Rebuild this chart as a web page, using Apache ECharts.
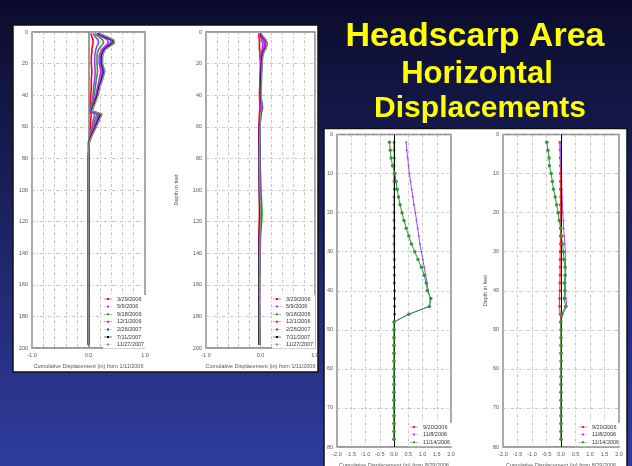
<!DOCTYPE html>
<html><head><meta charset="utf-8">
<script src="https://cdn.jsdelivr.net/npm/echarts@6/dist/echarts.min.js"></script>
<style>html,body{margin:0;padding:0;background:#1a1f5a}#c{width:632px;height:466px}</style>
</head><body><div id="c"></div>
<script>
// ---------- DATA ----------
const datesA = ['3/29/2006','5/9/2006','9/18/2006','12/1/2006','2/26/2007','7/11/2007','11/27/2007'];
const datesB = ['9/20/2006','11/8/2006','11/14/2006'];
const xTicksA = [-1.0, 0.0, 1.0];
const xTicksB = [-2.0,-1.5,-1.0,-0.5,0.0,0.5,1.0,1.5,2.0];

// Plot 1 (left panel, first inclinometer) depths in feet
const depthA = [1,3,5,7,9,11,13,15,20,25,30,35,40,45,50,52,55,60,65,70,80,100,120,140,160,180,198];
const A_0329_2006 = [0.04,0.06,0.08,0.08,0.07,0.06,0.06,0.05,0.05,0.06,0.05,0.05,0.04,0.03,0.02,0.05,0.04,0.03,0.02,0.00,0.00,0.00,0.00,0.00,0.00,0.00,0.00];
const A_0509_2006 = [0.08,0.12,0.17,0.18,0.15,0.13,0.12,0.11,0.11,0.12,0.11,0.09,0.08,0.06,0.03,0.11,0.09,0.06,0.03,0.00,0.00,0.00,0.00,0.00,0.00,0.00,0.00];
const A_0918_2006 = [0.11,0.18,0.25,0.27,0.22,0.18,0.16,0.15,0.15,0.16,0.14,0.12,0.10,0.07,0.04,0.15,0.12,0.08,0.04,0.01,0.00,0.00,0.00,0.00,0.00,0.00,0.00];
const A_1201_2006 = [0.14,0.24,0.34,0.35,0.29,0.24,0.21,0.19,0.19,0.22,0.19,0.16,0.13,0.09,0.05,0.18,0.15,0.10,0.05,0.01,0.01,0.01,0.01,0.01,0.01,0.00,0.00];
const A_0226_2007 = [0.16,0.28,0.39,0.40,0.33,0.27,0.24,0.22,0.22,0.25,0.22,0.18,0.15,0.10,0.05,0.21,0.17,0.12,0.06,0.01,0.00,0.00,0.00,0.00,0.00,0.00,0.00];
const A_0711_2007 = [0.18,0.31,0.43,0.44,0.36,0.29,0.26,0.24,0.24,0.28,0.24,0.19,0.16,0.11,0.06,0.23,0.19,0.13,0.06,0.01,0.00,0.00,0.00,0.00,0.00,0.00,0.00];
const A_1127_2007 = [0.19,0.33,0.45,0.46,0.38,0.30,0.27,0.25,0.25,0.29,0.25,0.20,0.17,0.12,0.06,0.24,0.20,0.14,0.07,0.01,0.00,0.00,0.00,0.00,0.00,0.00,0.00];

// Plot 2 (left panel, second inclinometer)
const depthB = [1,3,5,7,9,11,13,16,20,30,40,48,52,60,80,100,115,130,150,170,190,198];
const B_0329_2006 = [-0.03,-0.03,-0.02,-0.02,-0.02,-0.02,-0.01,-0.01,0.00,-0.01,-0.02,-0.01,-0.02,-0.03,-0.03,-0.02,-0.02,-0.03,-0.02,-0.03,-0.02,-0.02];
const B_0509_2006 = [-0.01,0.00,0.02,0.04,0.04,0.03,0.02,0.01,0.01,0.00,-0.01,0.01,-0.01,-0.02,-0.02,-0.02,-0.01,-0.02,-0.02,-0.02,-0.02,-0.02];
const B_0918_2006 = [0.00,0.03,0.08,0.11,0.11,0.09,0.05,0.03,0.02,0.01,0.00,0.02,0.00,-0.01,-0.01,0.01,0.03,0.00,-0.01,-0.02,-0.01,-0.01];
const B_1201_2006 = [-0.01,0.01,0.05,0.07,0.07,0.05,0.03,0.02,0.01,0.00,-0.01,0.01,-0.01,-0.02,-0.02,-0.01,0.00,-0.01,-0.02,-0.02,-0.02,-0.02];
const B_0226_2007 = [0.00,0.04,0.09,0.12,0.11,0.08,0.05,0.03,0.02,0.01,0.00,0.04,0.01,-0.01,-0.02,-0.01,0.01,-0.01,-0.02,-0.03,-0.02,-0.02];
const B_0711_2007 = [0.00,0.04,0.09,0.11,0.10,0.08,0.05,0.03,0.02,0.01,0.00,0.03,0.00,-0.02,-0.02,-0.02,-0.01,-0.02,-0.03,-0.03,-0.03,-0.03];
const B_1127_2007 = [0.01,0.05,0.10,0.12,0.11,0.09,0.06,0.04,0.03,0.02,0.01,0.03,0.00,-0.01,-0.02,-0.01,0.00,-0.01,-0.02,-0.02,-0.02,-0.02];

// Plots 3 and 4 (right panel) depths 2..78 ft
const depthC = [2,4,6,8,10,12,14,16,18,20,22,24,26,28,30,32,34,36,38,40,42,44,46,48,50,52,54,56,58,60,62,64,66,68,70,72,74,76,78];
const C_0920_2006 = [0.00,0.00,0.01,0.00,0.00,0.00,0.01,0.00,0.00,0.00,0.00,0.01,0.00,0.00,0.00,0.01,0.01,0.01,0.01,0.02,0.02,0.02,0.02,0.01,0.00,0.00,0.00,0.00,0.00,0.00,0.00,0.00,0.00,0.00,0.00,0.00,0.00,0.00,0.00];
const C_1108_2006 = [0.43,0.45,0.48,0.51,0.54,0.58,0.62,0.66,0.70,0.75,0.79,0.83,0.87,0.91,0.96,1.01,1.06,1.11,1.16,1.20,1.28,1.25,0.52,0.00,0.02,0.02,0.02,0.01,0.01,0.00,0.00,0.00,-0.02,-0.02,-0.01,0.00,0.00,0.00,0.00];
const C_1114_2006 = [-0.16,-0.13,-0.10,-0.05,0.03,0.07,0.11,0.16,0.21,0.28,0.35,0.43,0.52,0.61,0.73,0.84,0.96,1.06,1.13,1.17,1.29,1.24,0.52,0.00,0.00,0.00,0.00,0.00,0.00,0.00,0.00,0.00,0.00,0.00,0.00,0.00,0.00,0.00,0.00];
const D_0920_2006 = [-0.04,-0.03,-0.03,-0.02,-0.02,-0.02,-0.02,-0.01,-0.02,-0.02,-0.02,-0.02,-0.02,-0.02,-0.03,-0.03,-0.03,-0.03,-0.04,-0.04,-0.05,-0.05,-0.03,0.00,0.00,0.00,0.00,0.00,0.00,0.00,0.00,0.00,0.00,0.00,0.00,0.00,0.00,0.00,0.00];
const D_1108_2006 = [-0.03,-0.02,-0.01,0.00,0.01,0.02,0.03,0.04,0.05,0.06,0.08,0.09,0.11,0.13,0.15,0.15,0.16,0.16,0.16,0.16,0.17,0.20,0.06,0.00,0.01,0.01,0.02,0.02,0.01,0.01,0.02,0.01,0.01,0.00,0.00,0.00,0.00,0.00,0.00];
const D_1114_2006 = [-0.49,-0.45,-0.41,-0.40,-0.34,-0.30,-0.26,-0.20,-0.15,-0.10,-0.06,-0.01,0.02,0.05,0.08,0.10,0.14,0.14,0.11,0.13,0.11,0.16,0.02,-0.01,0.00,0.00,0.00,0.00,0.00,0.00,0.00,0.00,0.00,0.00,0.00,0.00,0.00,0.00,0.00];

// ---------- STYLE ----------
const colA = ['#ff0000','#9a3cff','#2e9e2e','#ff00ff','#2f3cff','#000000','#8c8c8c'];
const colB = ['#ff2020','#9a4dff','#2f9a33'];
const FONT = '"Liberation Sans", Arial, sans-serif';
const ICON = 'path://M0,4.4L24,4.4L24,5.6L0,5.6ZM9,2L15,2L15,8L9,8Z';

const chart = echarts.init(document.getElementById('c'));
const pair = (vals, deps) => vals.map((v, i) => [v, deps[i]]);

function gridCfg(l, t, w, h) {
  return { left: l, top: t, width: w, height: h, show: true, backgroundColor: '#fff',
           borderColor: '#7a7a7a', borderWidth: 1.3, outerBoundsMode: 'none', containLabel: false };
}
const split = { show: true, lineStyle: { color: '#b5b5b5', width: 0.8, type: [3, 2, 1, 2] } };
function xAx(idx, min, max, interval, ticks, name) {
  return { type: 'value', gridIndex: idx, min, max, interval,
    axisLine: { show: false }, axisTick: { show: false }, splitLine: split,
    axisLabel: { fontSize: 5.5, color: '#555', fontFamily: FONT, margin: 4,
      formatter: v => ticks.some(t => Math.abs(t - v) < 1e-6) ? v.toFixed(1) : '' },
    name, nameLocation: 'middle', nameGap: 15,
    nameTextStyle: { fontSize: 5.5, color: '#555', fontFamily: FONT } };
}
function yAx(idx, max, interval, showName, gap) {
  return { type: 'value', gridIndex: idx, min: 0, max, interval, inverse: true,
    axisLine: { show: false }, axisTick: { show: false }, splitLine: split,
    axisLabel: { fontSize: 5.5, color: '#555', fontFamily: FONT, margin: 4 },
    name: showName ? 'Depth in feet' : '', nameLocation: 'middle', nameGap: gap, nameRotate: 90,
    nameTextStyle: { fontSize: 5.5, color: '#555', fontFamily: FONT } };
}
function zeroLine(color, width) {
  return { silent: true, symbol: 'none', label: { show: false },
           lineStyle: { color, width, type: 'solid' }, data: [{ xAxis: 0 }] };
}

const series = [];
const valsA = [A_0329_2006, A_0509_2006, A_0918_2006, A_1201_2006, A_0226_2007, A_0711_2007, A_1127_2007];
const valsB = [B_0329_2006, B_0509_2006, B_0918_2006, B_1201_2006, B_0226_2007, B_0711_2007, B_1127_2007];
datesA.forEach((n, i) => {
  series.push({ type: 'line', name: n, xAxisIndex: 0, yAxisIndex: 0, data: pair(valsA[i], depthA),
    color: colA[i], symbol: 'rect', symbolSize: 3, showSymbol: false, lineStyle: { width: 1.6 },
    animation: false, z: 3 + i, markLine: i === 0 ? zeroLine('#8a8a8a', 1.6) : undefined });
  series.push({ type: 'line', name: n, xAxisIndex: 1, yAxisIndex: 1, data: pair(valsB[i], depthB),
    color: colA[i], symbol: 'rect', symbolSize: 3, showSymbol: false, lineStyle: { width: 1.6 },
    animation: false, z: 3 + i });
});
const valsC = [C_0920_2006, C_1108_2006, C_1114_2006];
const valsD = [D_0920_2006, D_1108_2006, D_1114_2006];
const symB = ['rect', 'diamond', 'circle'];
const sizeB = [2.5, 2.5, 3.5];
datesB.forEach((n, i) => {
  series.push({ type: 'line', name: n, xAxisIndex: 2, yAxisIndex: 2, data: pair(valsC[i], depthC),
    color: colB[i], symbol: symB[i], symbolSize: sizeB[i], showSymbol: true, lineStyle: { width: 1 },
    animation: false, z: 3 + i, markLine: i === 0 ? zeroLine('#000', 1) : undefined });
  series.push({ type: 'line', name: n, xAxisIndex: 3, yAxisIndex: 3, data: pair(valsD[i], depthC),
    color: colB[i], symbol: symB[i], symbolSize: sizeB[i], showSymbol: true, lineStyle: { width: 1 },
    animation: false, z: 3 + i, markLine: i === 0 ? zeroLine('#000', 1) : undefined });
});

function legendCfg(data, left, top) {
  return { data: data.map(n => ({ name: n, icon: ICON })), orient: 'vertical', left, top,
    itemWidth: 8, itemHeight: 4, itemGap: 1.6,
    selectedMode: false, backgroundColor: '#fff', padding: [1, 2, 1, 1],
    textStyle: { fontSize: 5.5, color: '#333', fontFamily: FONT, lineHeight: 6 } };
}

const option = {
  animation: false,
  graphic: [
    { type: 'rect', z: -10, shape: { x: 0, y: 0, width: 632, height: 466 },
      style: { fill: new echarts.graphic.LinearGradient(0, 0, 0, 1, [
        { offset: 0, color: '#0b0c2c' }, { offset: 1, color: '#2f3c9e' }]) } },
    { type: 'rect', z: -9, shape: { x: 13, y: 25, width: 305, height: 347 },
      style: { fill: '#fff', stroke: '#111', lineWidth: 1.5 } },
    { type: 'rect', z: -9, shape: { x: 324, y: 128.5, width: 303, height: 345 },
      style: { fill: '#fff', stroke: '#111', lineWidth: 1.5 } },
    { type: 'text', z: 100, style: { text: 'Headscarp Area', x: 475, y: 37, textAlign: 'center',
      textVerticalAlign: 'middle', font: 'bold 34px ' + FONT, fill: '#ffff00' } },
    { type: 'text', z: 100, style: { text: 'Horizontal', x: 477, y: 74, textAlign: 'center',
      textVerticalAlign: 'middle', font: 'bold 31px ' + FONT, fill: '#ffff00' } },
    { type: 'text', z: 100, style: { text: 'Displacements', x: 480, y: 109, textAlign: 'center',
      textVerticalAlign: 'middle', font: 'bold 30px ' + FONT, fill: '#ffff00' } }
  ],
  grid: [gridCfg(32, 32, 113, 316), gridCfg(206, 32, 109, 316), gridCfg(337, 134.5, 114, 312.5), gridCfg(503, 134.5, 116, 312.5)],
  xAxis: [
    xAx(0, -1, 1, 0.2, xTicksA, 'Cumulative Displacement (in) from 1/11/2006'),
    xAx(1, -1, 1, 0.2, xTicksA, 'Cumulative Displacement (in) from 1/11/2006'),
    xAx(2, -2, 2, 0.5, xTicksB, 'Cumulative Displacement (in) from 8/29/2006'),
    xAx(3, -2, 2, 0.5, xTicksB, 'Cumulative Displacement (in) from 8/29/2006')
  ],
  yAxis: [yAx(0, 200, 20, false, 20), yAx(1, 200, 20, true, 27), yAx(2, 80, 10, false, 15), yAx(3, 80, 10, true, 15)],
  legend: [legendCfg(datesA, 103, 295), legendCfg(datesA, 272, 295), legendCfg(datesB, 409, 423), legendCfg(datesB, 578, 423)],
  series
};
chart.setOption(option);
</script></body></html>
